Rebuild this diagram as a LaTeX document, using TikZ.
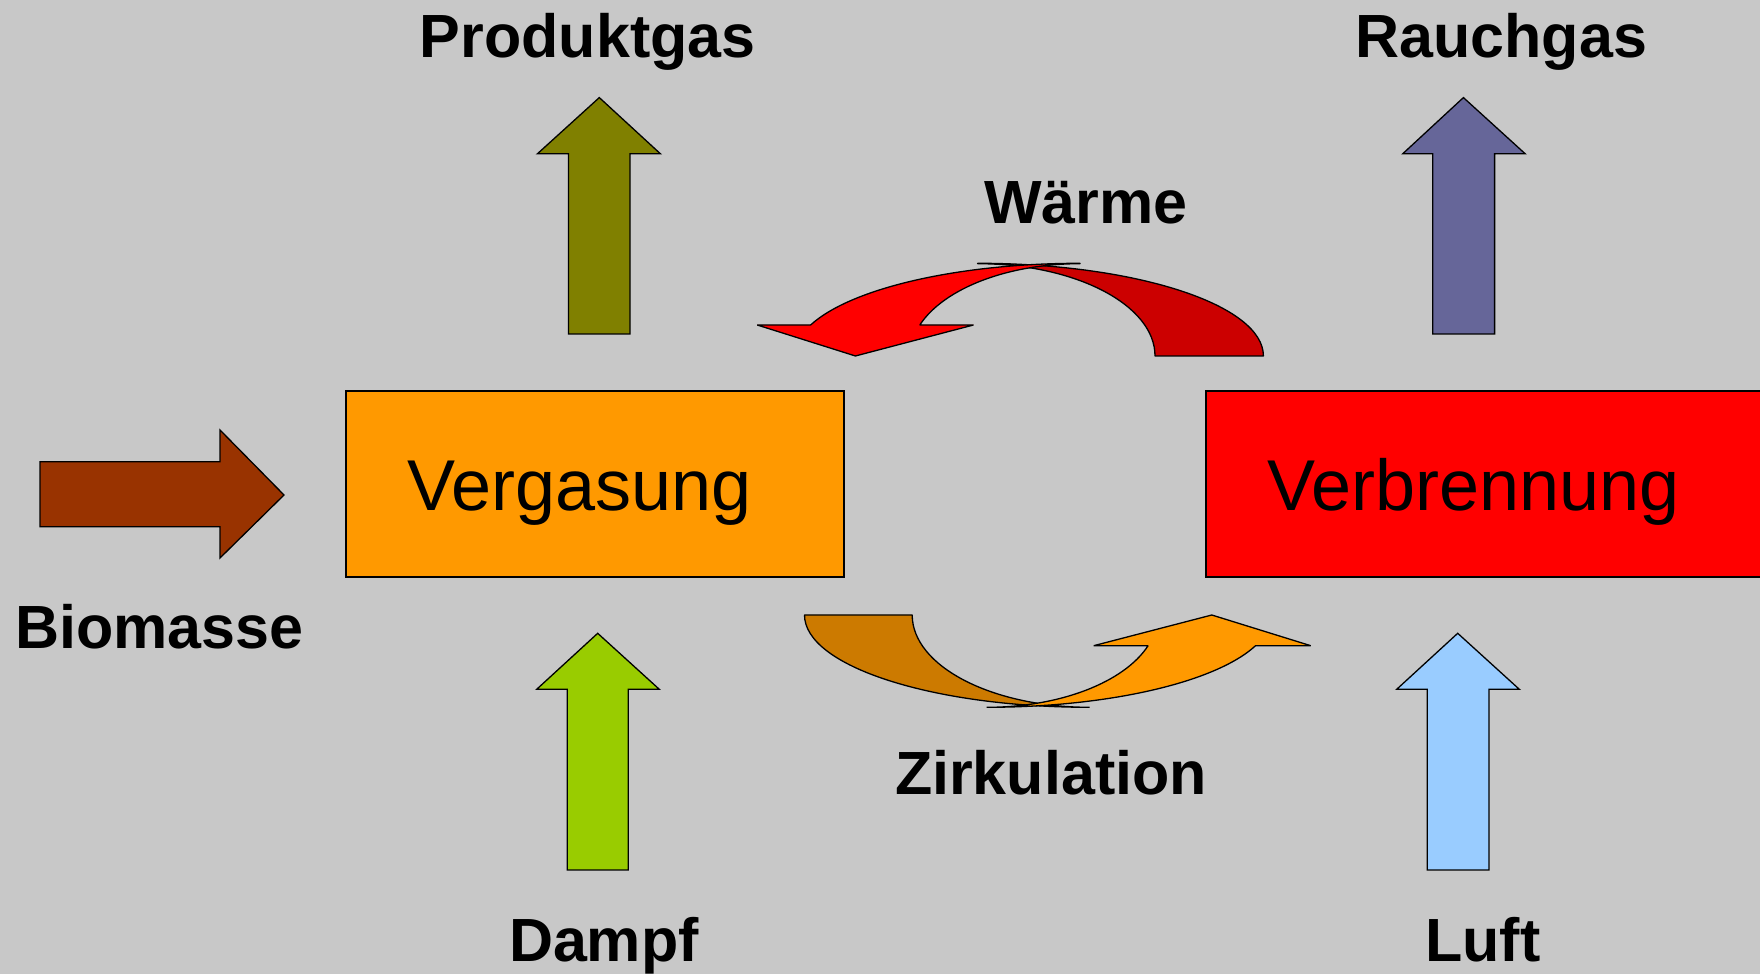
\documentclass[tikz,border=0pt]{standalone}
\usepackage{fontspec}
\setmainfont{Liberation Sans}
\definecolor{cBg}{RGB}{200,200,200}
\definecolor{cOlive}{HTML}{808000}
\definecolor{cRauch}{HTML}{666699}
\definecolor{cOrange}{HTML}{FF9900}
\definecolor{cRed}{HTML}{FF0000}
\definecolor{cDarkRed}{HTML}{CC0000}
\definecolor{cDarkOrange}{HTML}{CC7A00}
\definecolor{cDampf}{HTML}{99CC00}
\definecolor{cLuft}{HTML}{99CCFF}
\definecolor{cBio}{HTML}{993300}
\begin{document}
\begin{tikzpicture}[x=1pt,y=1pt,
  shp/.style={draw=black,line width=1.3pt,line join=miter},
  curv/.style={draw=black,line width=1.3pt,line join=bevel},
  procbox/.style={draw=black,line width=1.8pt,inner sep=0pt,anchor=south west},
  lab/.style={font=\fontsize{61}{70}\selectfont\bfseries,inner sep=0pt,anchor=base},
  boxlab/.style={font=\fontsize{72}{80}\selectfont,inner sep=0pt,anchor=base}]
\useasboundingbox (0,0) rectangle (1760,974);
\fill[cBg] (0,0) rectangle (1760,974);
\begin{scope}
\clip (0,0) rectangle (1760,974);
% process boxes
\node[procbox,fill=cOrange,minimum width=498pt,minimum height=185.6pt] (verg) at (345.2,396.1) {};
\node[procbox,fill=cRed,minimum width=580pt,minimum height=185.6pt] (verb) at (1205.3,396.1) {};
\end{scope}
\node[boxlab] (vergtxt) at (579.9,463.1) {Vergasung};
\node[boxlab] (verbtxt) at (1473.6,463.1) {Verbrennung};
% straight block arrows
% Produktgas
\filldraw[shp,fill=cOlive] (568.5,640) -- (568.5,820.2) -- (537.4,820.2) -- (599.3,876.4) -- (660.4,820.2) -- (630,820.2) -- (630,640) -- cycle;
% Rauchgas
\filldraw[shp,fill=cRauch] (1432.8,640) -- (1432.8,820.2) -- (1402.7,820.2) -- (1463.4,876.4) -- (1525.2,820.2) -- (1494.6,820.2) -- (1494.6,640) -- cycle;
% Dampf
\filldraw[shp,fill=cDampf] (567.3,104) -- (567.3,284.7) -- (536.7,284.7) -- (597.7,340.7) -- (659.3,284.7) -- (628.3,284.7) -- (628.3,104) -- cycle;
% Luft
\filldraw[shp,fill=cLuft] (1427.3,104) -- (1427.3,284.7) -- (1396.7,284.7) -- (1457.7,340.7) -- (1519.3,284.7) -- (1489,284.7) -- (1489,104) -- cycle;
% Biomasse
\filldraw[shp,fill=cBio] (40,447.3) -- (40,512.3) -- (220,512.3) -- (220,544) -- (284,479) -- (220,416) -- (220,447.3) -- cycle;
% Waerme curved arrow: back band
\filldraw[curv,fill=cDarkRed] (1263.4,618) arc[start angle=0,end angle=90,x radius=285.8,y radius=92.7]
  -- (977.6,710.3) arc[start angle=90,end angle=0,x radius=177.4,y radius=92.3] -- cycle;
% Waerme curved arrow: front band with head
\filldraw[curv,fill=cRed] (810.6,649) arc[start angle=160.46,end angle=90,x radius=285.8,y radius=92.7]
  -- (1079.9,710.3) arc[start angle=90,end angle=160.37,x radius=170,y radius=92.3]
  -- (973.5,649) -- (855.4,618) -- (757.2,649) -- cycle;
% Zirkulation curved arrow: back band
\filldraw[curv,fill=cDarkOrange] (804.5,359) arc[start angle=180,end angle=270,x radius=285.1,y radius=92.3]
  -- (1089.6,266.7) arc[start angle=270,end angle=180,x radius=177.4,y radius=92.3] -- cycle;
% Zirkulation curved arrow: front band with head
\filldraw[curv,fill=cOrange] (986.7,266.7) arc[start angle=270,end angle=340.58,x radius=285.1,y radius=92.3]
  -- (1310.7,328.3) -- (1211.8,359) -- (1093.7,328.3) -- (1148.1,328.3)
  arc[start angle=340.58,end angle=270,x radius=171,y radius=92.3] -- cycle;
% labels
\node[lab] (produktgas) at (587.7,916.6) {Produktgas};
\node[lab] (rauchgas) at (1501.2,916.6) {Rauchgas};
\node[lab] (waerme) at (1085.9,750.7) {Wärme};
\node[lab] (zirkulation) at (1050.9,179) {Zirkulation};
\node[lab] (biomasse) at (159.2,325.7) {Biomasse};
\node[lab] (dampf) at (603.9,12.3) {Dampf};
\node[lab] (luft) at (1483,12.3) {Luft};
\end{tikzpicture}
\end{document}
